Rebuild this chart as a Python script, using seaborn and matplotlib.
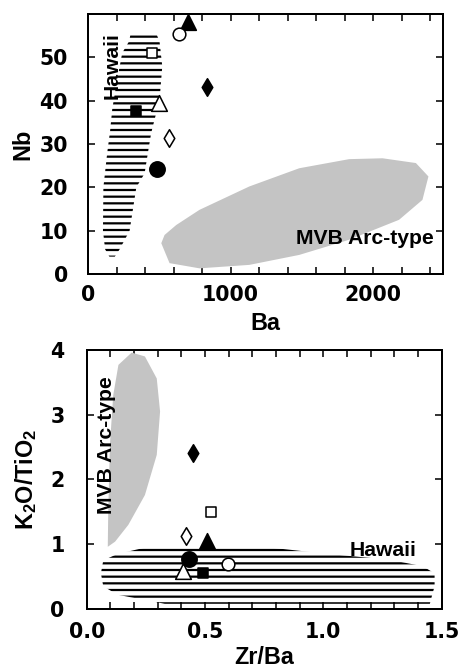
import matplotlib
matplotlib.use("Agg")
import matplotlib.pyplot as plt
import seaborn as sns
import pandas as pd
from matplotlib.ticker import MultipleLocator

# ---------------- data ----------------
samples = ["A", "B", "C", "D", "E", "F", "G", "H"]
symbol = ["^", "o", "s", "d", "^", "s", "d", "o"]
filled = [True, False, False, True, False, True, False, True]
ba = [700, 635, 450, 833, 497, 334, 565, 484]
nb = [58.2, 55.3, 51.0, 43.1, 39.5, 37.6, 31.3, 24.2]
zr_ba = [0.51, 0.596, 0.525, 0.448, 0.405, 0.493, 0.42, 0.432]
k2o_tio2 = [1.05, 0.69, 1.49, 2.41, 0.58, 0.55, 1.13, 0.77]

# compositional fields (outlines)
hawaii1_ba = [300, 480, 502, 521, 502, 443, 420, 397, 339, 292, 222, 188,
              150, 120, 105, 108, 135, 155, 170, 200, 240, 290]
hawaii1_nb = [55.8, 55.4, 53.6, 47.9, 40.2, 32.5, 27.9, 23.2, 20.0, 10.0, 5.7, 4.0,
              4.0, 5.7, 10.0, 20.0, 28.0, 33.0, 38.0, 44.0, 51.0, 53.8]
mvb1_ba = [514, 572, 782, 1132, 1482, 1832, 2182, 2346, 2388, 2300, 2066, 1832,
           1482, 1132, 782, 619, 537]
mvb1_nb = [7.1, 2.5, 1.3, 2.1, 4.4, 7.9, 12.5, 17.1, 22.5, 25.6, 26.7, 26.5,
           24.4, 20.2, 14.8, 11.3, 9.0]

hawaii2_x = [0.25, 0.77, 1.02, 1.28, 1.42, 1.47, 1.47, 1.46, 1.45, 0.33, 0.13,
             0.07, 0.06, 0.07, 0.13]
hawaii2_y = [0.95, 0.95, 0.85, 0.76, 0.66, 0.55, 0.35, 0.22, 0.08, 0.08, 0.22,
             0.35, 0.55, 0.75, 0.85]
mvb2_x = [0.089, 0.091, 0.098, 0.112, 0.134, 0.19, 0.246, 0.296, 0.31, 0.296,
          0.246, 0.176, 0.12]
mvb2_y = [0.96, 1.50, 2.53, 3.30, 3.77, 3.96, 3.90, 3.56, 3.05, 2.38,
          1.76, 1.30, 1.04]

# ---------------- style ----------------
sns.set_theme(style="ticks")
plt.rcParams["font.family"] = ["Liberation Sans", "DejaVu Sans"]
plt.rcParams["font.weight"] = "bold"
plt.rcParams["mathtext.fontset"] = "custom"
plt.rcParams["mathtext.rm"] = "Liberation Sans:bold"
plt.rcParams["mathtext.bf"] = "Liberation Sans:bold"
plt.rcParams["mathtext.default"] = "rm"
plt.rcParams["hatch.linewidth"] = 2.0
for key in ["text.color", "axes.labelcolor", "xtick.color", "ytick.color",
            "axes.edgecolor", "xtick.labelcolor", "ytick.labelcolor"]:
    plt.rcParams[key] = "black"

TICK_FS = 18.5
LAB_FS = 21
ANN_FS = 19
DPI = 80
fig = plt.figure(figsize=(460 / DPI, 672 / DPI), dpi=DPI, facecolor="white")
ax1 = fig.add_axes([0.1913, 0.5923, 0.7717, 0.3869])
ax2 = fig.add_axes([0.1885, 0.0938, 0.7717, 0.3854])

df = pd.DataFrame({"sample": samples, "symbol": symbol, "filled": filled,
                   "ba": ba, "nb": nb, "zr_ba": zr_ba, "k2o_tio2": k2o_tio2})
msize = {"o": 190, "^": 200, "s": 85, "d": 125}
GRAY = "#c4c4c4"


def points(ax, xcol, ycol):
    for _, r in df.iterrows():
        sub = df[df["sample"] == r["sample"]]
        s = msize[r["symbol"]]
        if r["symbol"] == "o" and not r["filled"]:
            s = 130
        sns.scatterplot(data=sub, x=xcol, y=ycol, marker=r["symbol"], s=s,
                        color="black" if r["filled"] else "white",
                        edgecolor="black", linewidth=1.4, ax=ax, zorder=6,
                        clip_on=False, legend=False)


def style_axes(ax, xpad, ypad):
    for sp in ax.spines.values():
        sp.set_linewidth(1.8)
        sp.set_visible(True)
        sp.set_color("black")
    ax.tick_params(which="both", direction="in", top=True, right=True,
                   length=6, width=1.4, labelsize=TICK_FS, color="black",
                   labelcolor="black", labelfontfamily="DejaVu Sans")
    ax.tick_params(axis="x", pad=xpad)
    ax.tick_params(axis="y", pad=ypad)


# ---------- top panel: Nb vs Ba ----------
ax1.fill(mvb1_ba, mvb1_nb, facecolor=GRAY, edgecolor="none", zorder=1)
ax1.fill(hawaii1_ba, hawaii1_nb, facecolor="none", edgecolor="black",
         linewidth=0, hatch="--", zorder=2)
points(ax1, "ba", "nb")
ax1.set_xlim(0, 2490)
ax1.set_ylim(0, 60)
ax1.xaxis.set_major_locator(MultipleLocator(1000))
ax1.xaxis.set_minor_locator(MultipleLocator(200))
ax1.set_yticks([0, 10, 20, 30, 40, 50])
ax1.set_xlabel("Ba", fontsize=LAB_FS, fontweight="bold", labelpad=6,
               color="black")
ax1.set_ylabel("Nb", fontsize=LAB_FS, fontweight="bold", labelpad=5,
               color="black")
style_axes(ax1, 10, 18)
ax1.text(166, 48, "Hawaii", rotation=90, ha="center", va="center",
         fontsize=ANN_FS, fontweight="bold", zorder=7, color="black")
ax1.text(1940, 8.3, "MVB Arc-type", ha="center", va="center",
         fontsize=ANN_FS, fontweight="bold", zorder=7, color="black")

# ---------- bottom panel: K2O/TiO2 vs Zr/Ba ----------
ax2.fill(mvb2_x, mvb2_y, facecolor=GRAY, edgecolor="none", zorder=1)
ax2.fill(hawaii2_x, hawaii2_y, facecolor="none", edgecolor="black",
         linewidth=0, hatch="--", zorder=2)
points(ax2, "zr_ba", "k2o_tio2")
ax2.set_xlim(0, 1.5)
ax2.set_ylim(0, 4)
ax2.xaxis.set_minor_locator(MultipleLocator(0.1))
ax2.yaxis.set_major_locator(MultipleLocator(1))
ax2.set_xticks([0.0, 0.5, 1.0, 1.5])
ax2.set_xticklabels(["0.0", "0.5", "1.0", "1.5"])
ax2.set_xlabel("Zr/Ba", fontsize=LAB_FS, fontweight="bold", labelpad=3,
               color="black")
ax2.set_ylabel("K$_2$O/TiO$_2$", fontsize=LAB_FS, fontweight="bold",
               labelpad=10, color="black")
style_axes(ax2, 12, 20)
ax2.text(0.084, 2.53, "MVB Arc-type", rotation=90, ha="center", va="center",
         fontsize=ANN_FS, fontweight="bold", zorder=7, color="black")
ax2.text(1.253, 0.91, "Hawaii", ha="center", va="center",
         fontsize=ANN_FS, fontweight="bold", zorder=7, color="black")

fig.savefig("out.png", dpi=DPI, facecolor="white")
